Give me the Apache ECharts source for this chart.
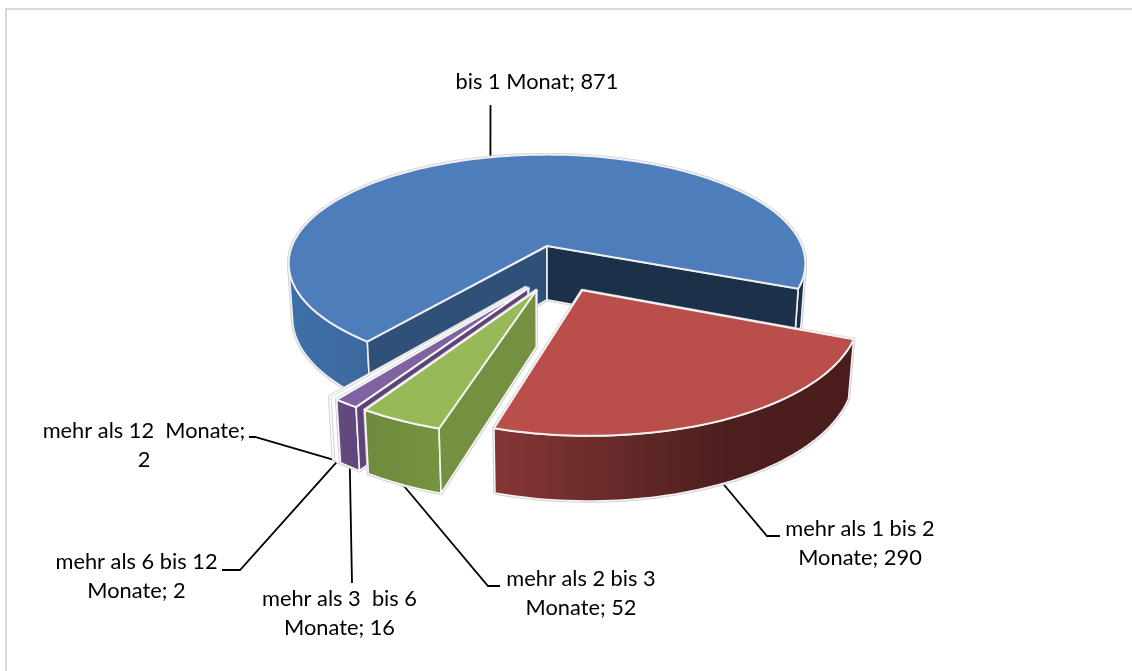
<!DOCTYPE html>
<html><head><meta charset="utf-8">
<style>html,body{margin:0;padding:0;background:#fff}#c{width:1132px;height:671px}</style>
<script src="https://cdn.jsdelivr.net/npm/echarts@6/dist/echarts.min.js"></script>
</head><body><div id="c"></div>
<script>
const categories = ['bis 1 Monat','mehr als 1 bis 2 Monate','mehr als 2 bis 3 Monate','mehr als 3  bis 6 Monate','mehr als 6 bis 12 Monate','mehr als 12  Monate'];
const values = [871, 290, 52, 16, 2, 2];
const labelTexts = ['bis 1 Monat; 871','mehr als 1 bis 2\nMonate; 290','mehr als 2 bis 3\nMonate; 52','mehr als 3  bis 6\nMonate; 16','mehr als 6 bis 12\nMonate; 2','mehr als 12  Monate;\n2'];

// view of the pie (layout only)
const FIRST_ANGLE = 218, CX = 547, CY = 246, RX = 255, RY = 106, K = 0.16, KZ = 0.015, H = 54.5, EXPLODE = 0.2, SHIFT_U = -0.008, SHIFT_V = 0.018;
const FONT = '21.8px Lato, Carlito, sans-serif';
const styles = [
  {top:'#4d7dba', outer:[[0,'#4070a9'],[0.16,'#3b679d'],[0.5,'#2c4d78'],[0.95,'#1c304a'],[1,'#1c304a']], start:'#30507a', end:'#1d304a', stroke:'#f0f0f0', z:1},
  {top:'#b94e4b', outer:[[0,'#873636'],[0.4,'#602827'],[0.65,'#4c1f1e'],[1,'#4a1c1b']], start:'#4a1c1b', end:'#4a1c1b', stroke:'#f2f2f2', z:6},
  {top:'#98b957', outer:[[0,'#6e8b3e'],[1,'#76933f']], start:'#749040', end:'#749040', stroke:'#f6f6f6', z:5},
  {top:'#7f63a1', outer:[[0,'#664a82'],[1,'#5f4679']], start:'#5e4478', end:'#5e4478', stroke:'#f6f6f6', z:4},
  {top:'#ffffff', outer:[[0,'#f2f9fc'],[1,'#f2f9fc']], start:'#ffffff', end:'#ffffff', stroke:'#ffffff', z:3},
  {top:'#ffffff', outer:[[0,'#fdf6ef'],[1,'#fdf6ef']], start:'#ffffff', end:'#ffffff', stroke:'#ffffff', z:2}
];
const labels = [
  {x:537, y:82,  elbow:[[490.5,105]]},
  {x:860, y:543, elbow:[[767,536],[780,536]]},
  {x:581, y:593, elbow:[[488,586],[500,586]]},
  {x:339.5, y:613, elbow:[[352,583]]},
  {x:136.5, y:576, elbow:[[240,570],[222,570]]},
  {x:144, y:445, elbow:[[255,437],[249,437]]}
];
const total = values.reduce((a,b)=>a+b,0);
const rad = d => d*Math.PI/180;
const project = (u,v,z) => { const w = 1 - K*v + KZ*z; return [CX + RX*u/w, CY + (RY*v + H*z)/w]; };

function sliceGeom(idx){
  let a = FIRST_ANGLE;
  for(let i=0;i<idx;i++) a += values[i]/total*360;
  const a1 = a + values[idx]/total*360;
  const mid0 = FIRST_ANGLE + values[0]/total*180;
  const mid = (a+a1)/2;
  const ox = EXPLODE*(Math.sin(rad(mid))-Math.sin(rad(mid0))) + (idx?SHIFT_U:0);
  const oy = EXPLODE*(-Math.cos(rad(mid))+Math.cos(rad(mid0))) + (idx?SHIFT_V:0);
  return {a0:a,a1,mid,ox,oy};
}
// Only the camera-facing stretches of the rim wall are kept, so the band never folds over itself.
function facingRuns(topRim, botRim){
  const runs = []; let cur = null;
  for(let k=0;k<topRim.length-1;k++){
    const q=[topRim[k],topRim[k+1],botRim[k+1],botRim[k]];
    let s=0; for(let j=0;j<4;j++){ const p=q[j], n=q[(j+1)%4]; s+=p[0]*n[1]-n[0]*p[1]; }
    if(s<0){ if(!cur){cur=[k,k+1];runs.push(cur);} else cur[1]=k+1; } else cur=null;
  }
  return runs.map(r=>topRim.slice(r[0],r[1]+1).concat(botRim.slice(r[0],r[1]+1).reverse()));
}
function renderItem(params, api){
  const i = params.dataIndex, s = styles[i], g = sliceGeom(i);
  const steps = Math.max(2, Math.ceil((g.a1-g.a0)/1.5));
  const rim = z => { const o=[]; for(let k=0;k<=steps;k++){ const a=rad(g.a0+(g.a1-g.a0)*k/steps); o.push(project(g.ox+Math.sin(a), g.oy-Math.cos(a), z)); } return o; };
  const topRim = rim(0), botRim = rim(1);
  const apexT = project(g.ox,g.oy,0), apexB = project(g.ox,g.oy,1);
  const runs = facingRuns(topRim, botRim);
  const topPts = [apexT].concat(topRim);
  const startPts = [apexT, topRim[0], botRim[0], apexB];
  const endPts = [apexT, topRim[steps], botRim[steps], apexB];
  const startVis = -Math.cos(rad(g.a0-90)) > 0, endVis = -Math.cos(rad(g.a1+90)) > 0;
  const xs = [].concat(...runs).map(p=>p[0]).concat(topRim.map(p=>p[0]));
  const outerFill = new echarts.graphic.LinearGradient(Math.min(...xs),0,Math.max(...xs),0,s.outer.map(c=>({offset:c[0],color:c[1]})),true);
  const z = s.z*10;
  const poly = (pts,fill,stroke,lw,zz) => ({type:'polygon',silent:true,z2:zz,shape:{points:pts},style:{fill,stroke,lineWidth:lw,lineJoin:'round'}});
  const kids = [];
  // soft grey silhouette
  runs.concat([topPts]).concat(startVis?[startPts]:[]).concat(endVis?[endPts]:[]).forEach(p=>kids.push(poly(p,'#ffffff','#cfcfcf',3.4,z)));
  runs.forEach(p=>kids.push(poly(p,outerFill,s.stroke,1.6,z+1)));
  if(startVis) kids.push(poly(startPts,s.start,s.stroke,1.6,z+2));
  if(endVis) kids.push(poly(endPts,s.end,s.stroke,1.6,z+2));
  kids.push(poly(topPts,s.top,s.stroke,2,z+3));
  // leader line and label
  const a = rad(g.mid), L = labels[i];
  const anchor = project(g.ox+Math.sin(a), g.oy-Math.cos(a), i===0?0:1);
  kids.push({type:'polyline',silent:true,z2:z-5,shape:{points:[anchor].concat(L.elbow)},style:{fill:null,stroke:'#000',lineWidth:1.8}});
  kids.push({type:'text',silent:true,z2:200,style:{x:L.x,y:L.y,text:labelTexts[i],font:FONT,fill:'#000',align:'center',verticalAlign:'middle',lineHeight:29}});
  return {type:'group',children:kids};
}
const chart = echarts.init(document.getElementById('c'),null,{renderer:'canvas'});
chart.setOption({
  animation:false,
  backgroundColor:'#fff',
  graphic:[{type:'rect',silent:true,shape:{x:6,y:9,width:1200,height:700},style:{fill:null,stroke:'#d9d9d9',lineWidth:2}}],
  series:[{type:'custom',coordinateSystem:'none',renderItem,silent:true,clip:false,
    data:values.map((v,i)=>({name:categories[i],value:[v]}))}]
});
</script></body></html>
